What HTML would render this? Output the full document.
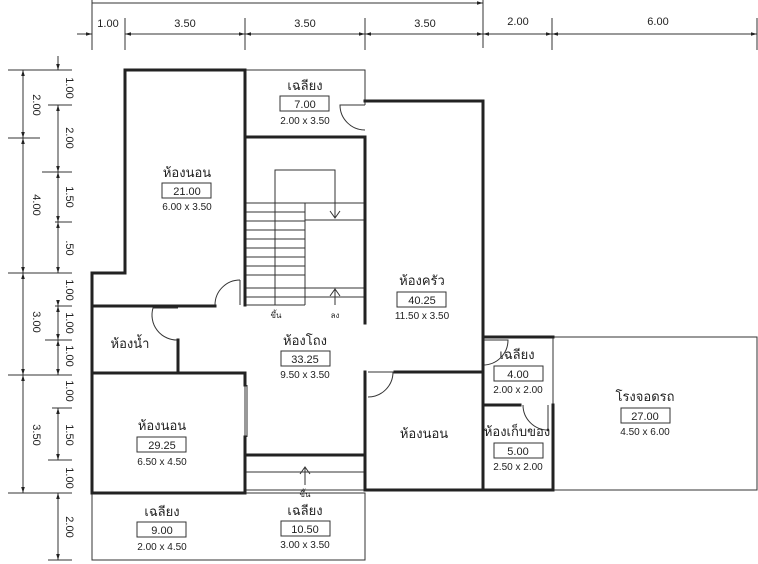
<!DOCTYPE html>
<html><head><meta charset="utf-8"><style>
html,body{margin:0;padding:0;background:#fff;}
svg{display:block;}
text{font-family:"Liberation Sans","Noto Sans CJK SC",sans-serif;fill:#222;}
.t{font-size:13px;}
.s{font-size:10px;}
.d{font-size:11px;}
</style></head><body>
<svg width="758" height="564" viewBox="0 0 758 564" xmlns="http://www.w3.org/2000/svg">
<defs>
<marker id="a" viewBox="0 0 10 10" refX="10" refY="5" markerWidth="6" markerHeight="6" orient="auto-start-reverse"><path d="M0,2 L10,5 L0,8 z" fill="#222"/></marker>
</defs>
<g stroke="#333" stroke-width="1" fill="none">
<!-- top dims -->
<line x1="92" y1="3" x2="483" y2="3" marker-end="url(#a)"/>
<line x1="92" y1="0" x2="92" y2="50"/>
<line x1="483" y1="0" x2="483" y2="48"/>
<line x1="77" y1="34" x2="92" y2="34" marker-end="url(#a)"/>
<line x1="125" y1="18" x2="125" y2="50"/>
<line x1="245" y1="18" x2="245" y2="50"/>
<line x1="365" y1="18" x2="365" y2="50"/>
<line x1="552" y1="18" x2="552" y2="50"/>
<line x1="757" y1="18" x2="757" y2="50"/>
<line x1="125" y1="34" x2="245" y2="34" marker-start="url(#a)" marker-end="url(#a)"/>
<line x1="245" y1="34" x2="365" y2="34" marker-start="url(#a)" marker-end="url(#a)"/>
<line x1="365" y1="34" x2="483" y2="34" marker-start="url(#a)" marker-end="url(#a)"/>
<line x1="483" y1="34" x2="552" y2="34" marker-start="url(#a)" marker-end="url(#a)"/>
<line x1="552" y1="34" x2="757" y2="34" marker-start="url(#a)" marker-end="url(#a)"/>
<!-- left outer -->
<line x1="8" y1="70" x2="72" y2="70"/>
<line x1="8" y1="138" x2="40" y2="138"/>
<line x1="8" y1="273" x2="72" y2="273"/>
<line x1="8" y1="375" x2="72" y2="375"/>
<line x1="8" y1="493" x2="72" y2="493"/>
<line x1="23" y1="70" x2="23" y2="138" marker-start="url(#a)" marker-end="url(#a)"/>
<line x1="23" y1="138" x2="23" y2="273" marker-start="url(#a)" marker-end="url(#a)"/>
<line x1="23" y1="273" x2="23" y2="375" marker-start="url(#a)" marker-end="url(#a)"/>
<line x1="23" y1="375" x2="23" y2="493" marker-start="url(#a)" marker-end="url(#a)"/>
<!-- left inner -->
<line x1="58" y1="56" x2="58" y2="70" marker-end="url(#a)"/>
<line x1="48" y1="105" x2="72" y2="105"/>
<line x1="58" y1="105" x2="58" y2="172" marker-start="url(#a)" marker-end="url(#a)"/>
<line x1="42" y1="172" x2="72" y2="172"/>
<line x1="58" y1="172" x2="58" y2="222" marker-start="url(#a)" marker-end="url(#a)"/>
<line x1="55" y1="222" x2="72" y2="222"/>
<line x1="58" y1="222" x2="58" y2="273" marker-start="url(#a)" marker-end="url(#a)"/>
<line x1="58" y1="300" x2="58" y2="306" marker-end="url(#a)"/>
<line x1="55" y1="306" x2="72" y2="306"/>
<line x1="58" y1="306" x2="58" y2="340" marker-start="url(#a)" marker-end="url(#a)"/>
<line x1="45" y1="340" x2="72" y2="340"/>
<line x1="58" y1="340" x2="58" y2="375" marker-start="url(#a)" marker-end="url(#a)"/>
<line x1="52" y1="408" x2="72" y2="408"/>
<line x1="58" y1="408" x2="58" y2="460" marker-start="url(#a)" marker-end="url(#a)"/>
<line x1="48" y1="460" x2="72" y2="460"/>
<line x1="58" y1="493" x2="58" y2="560" marker-start="url(#a)" marker-end="url(#a)"/>
<line x1="48" y1="560" x2="72" y2="560"/>
<!-- thin outlines -->
<polyline points="245,70 365,70 365,105"/>
<rect x="553" y="337" width="204" height="153"/>
<rect x="92" y="493" width="273" height="67"/>
<line x1="365" y1="100" x2="365" y2="105"/>
<!-- stairs -->
<polyline points="275,305 275,170 335,170 335,218"/>
<line x1="305" y1="203" x2="305" y2="305"/>
<g>
<line x1="245" y1="203" x2="365" y2="203"/><line x1="245" y1="212" x2="305" y2="212"/>
<line x1="305" y1="220" x2="365" y2="220"/>
<line x1="245" y1="221" x2="305" y2="221"/><line x1="245" y1="230" x2="305" y2="230"/>
<line x1="245" y1="239" x2="305" y2="239"/><line x1="245" y1="248" x2="305" y2="248"/>
<line x1="245" y1="257" x2="305" y2="257"/><line x1="245" y1="266" x2="305" y2="266"/>
<line x1="245" y1="275" x2="305" y2="275"/><line x1="245" y1="288" x2="365" y2="288"/>
<line x1="245" y1="297" x2="365" y2="297"/><line x1="245" y1="305" x2="305" y2="305"/>
<line x1="245" y1="472" x2="365" y2="472"/><line x1="245" y1="490" x2="365" y2="490"/>
</g>
<path d="M330,211 L335,218 L340,211"/>
<line x1="335" y1="290" x2="335" y2="305"/><path d="M330,296 L335,289 L340,296"/>
<line x1="305" y1="467" x2="305" y2="485"/><path d="M300,474 L305,467 L310,474"/>
<!-- doors -->
<path d="M365,105 L340,105 A25,25 0 0 0 365,130"/>
<path d="M240,280 A25,25 0 0 0 215,305"/><line x1="240" y1="280" x2="240" y2="305"/>
<path d="M178,308 L153,308 A25,25 0 0 0 178,340"/>
<path d="M368,372 L393,372 A25,25 0 0 1 368,397"/>
<path d="M483,340 L508,340 A25,25 0 0 1 483,365"/>
<path d="M523,405 A25,25 0 0 0 548,430 L548,405"/>
<line x1="245" y1="385" x2="245" y2="437"/><line x1="247" y1="385" x2="247" y2="437"/>
</g>
<!-- thick walls -->
<g stroke="#222" stroke-width="3" fill="none" stroke-linecap="square">
<polyline points="245,70 125,70 125,273 92,273 92,493 245,493 245,455 365,455"/>
<line x1="245" y1="70" x2="245" y2="305"/>
<line x1="245" y1="137" x2="365" y2="137"/>
<line x1="365" y1="137" x2="365" y2="323"/>
<polyline points="365,101 483,101 483,337 553,337"/>
<line x1="483" y1="337" x2="483" y2="490"/>
<polyline points="365,372 365,490 553,490 553,405"/>
<line x1="395" y1="372" x2="483" y2="372"/>
<line x1="483" y1="405" x2="520" y2="405"/>
<polyline points="92,306 215,306"/>
<line x1="178" y1="340" x2="178" y2="373"/>
<polyline points="92,373 245,373 245,385"/>
<line x1="245" y1="437" x2="245" y2="455"/>
</g>
<!-- dim text -->
<text class="d" x="108" y="27" text-anchor="middle">1.00</text>
<text class="d" x="185" y="27" text-anchor="middle">3.50</text>
<text class="d" x="305" y="27" text-anchor="middle">3.50</text>
<text class="d" x="425" y="27" text-anchor="middle">3.50</text>
<text class="d" x="518" y="25" text-anchor="middle">2.00</text>
<text class="d" x="658" y="25" text-anchor="middle">6.00</text>
<g class="d">
<text transform="translate(33,105) rotate(90)" text-anchor="middle">2.00</text>
<text transform="translate(33,205) rotate(90)" text-anchor="middle">4.00</text>
<text transform="translate(33,322) rotate(90)" text-anchor="middle">3.00</text>
<text transform="translate(33,435) rotate(90)" text-anchor="middle">3.50</text>
<text transform="translate(66,88) rotate(90)" text-anchor="middle">1.00</text>
<text transform="translate(66,138) rotate(90)" text-anchor="middle">2.00</text>
<text transform="translate(66,197) rotate(90)" text-anchor="middle">1.50</text>
<text transform="translate(66,248) rotate(90)" text-anchor="middle">.50</text>
<text transform="translate(66,290) rotate(90)" text-anchor="middle">1.00</text>
<text transform="translate(66,323) rotate(90)" text-anchor="middle">1.00</text>
<text transform="translate(66,356) rotate(90)" text-anchor="middle">1.00</text>
<text transform="translate(66,391) rotate(90)" text-anchor="middle">1.00</text>
<text transform="translate(66,435) rotate(90)" text-anchor="middle">1.50</text>
<text transform="translate(66,478) rotate(90)" text-anchor="middle">1.00</text>
<text transform="translate(66,527) rotate(90)" text-anchor="middle">2.00</text>
</g>
<!-- room labels -->
<g stroke="#333" stroke-width="1" fill="none">
<rect x="280" y="96" width="49" height="15"/>
<rect x="162" y="183" width="49" height="15"/>
<rect x="397" y="292" width="49" height="15"/>
<rect x="281" y="351" width="49" height="15"/>
<rect x="137" y="437" width="49" height="15"/>
<rect x="494" y="366" width="49" height="15"/>
<rect x="494" y="443" width="49" height="15"/>
<rect x="621" y="408" width="49" height="15"/>
<rect x="137" y="522" width="49" height="15"/>
<rect x="281" y="521" width="49" height="15"/>
</g>
<g text-anchor="middle">
<text class="t" x="305" y="90">เฉลียง</text><text class="d" x="305" y="108">7.00</text><text class="s" x="305" y="124">2.00 x 3.50</text>
<text class="t" x="187" y="177">ห้องนอน</text><text class="d" x="187" y="195">21.00</text><text class="s" x="187" y="210">6.00 x 3.50</text>
<text class="t" x="422" y="285">ห้องครัว</text><text class="d" x="422" y="304">40.25</text><text class="s" x="422" y="319">11.50 x 3.50</text>
<text class="t" x="305" y="345">ห้องโถง</text><text class="d" x="305" y="363">33.25</text><text class="s" x="305" y="378">9.50 x 3.50</text>
<text class="t" x="130" y="348">ห้องน้ำ</text>
<text class="t" x="162" y="430">ห้องนอน</text><text class="d" x="162" y="449">29.25</text><text class="s" x="162" y="465">6.50 x 4.50</text>
<text class="t" x="424" y="438">ห้องนอน</text>
<text class="t" x="517" y="359">เฉลียง</text><text class="d" x="518" y="378">4.00</text><text class="s" x="518" y="393">2.00 x 2.00</text>
<text class="t" x="517" y="436">ห้องเก็บของ</text><text class="d" x="518" y="455">5.00</text><text class="s" x="518" y="470">2.50 x 2.00</text>
<text class="t" x="645" y="401">โรงจอดรถ</text><text class="d" x="645" y="420">27.00</text><text class="s" x="645" y="435">4.50 x 6.00</text>
<text class="t" x="162" y="516">เฉลียง</text><text class="d" x="162" y="534">9.00</text><text class="s" x="162" y="550">2.00 x 4.50</text>
<text class="t" x="305" y="515">เฉลียง</text><text class="d" x="305" y="533">10.50</text><text class="s" x="305" y="548">3.00 x 3.50</text>
<text style="font-size:8px" x="276" y="318">ขึ้น</text>
<text style="font-size:8px" x="335" y="318">ลง</text>
<text style="font-size:8px" x="305" y="497">ขึ้น</text>
</g>
</svg>
</body></html>
